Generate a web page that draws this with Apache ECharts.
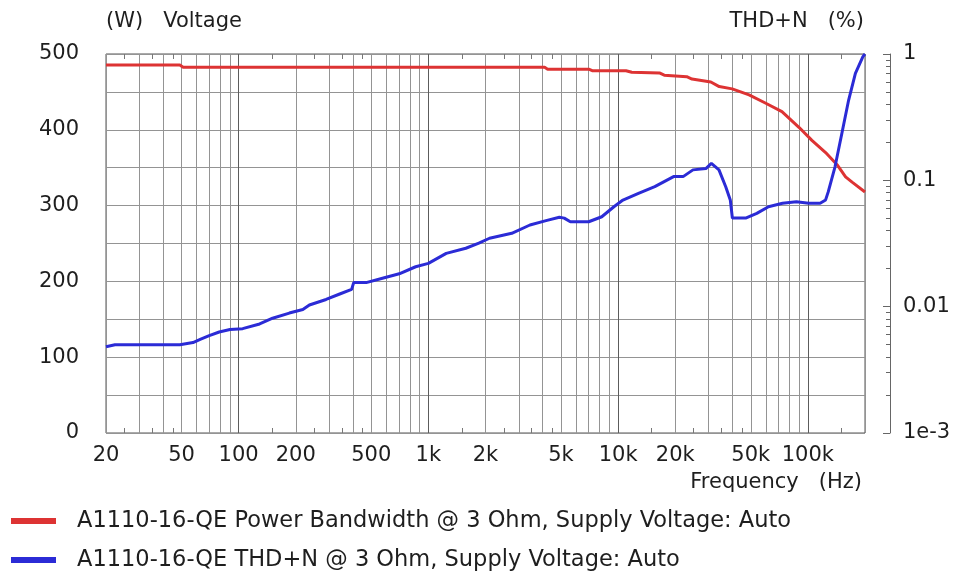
<!DOCTYPE html>
<html>
<head>
<meta charset="utf-8">
<title>A1110-16-QE</title>
<script src="https://cdn.jsdelivr.net/npm/echarts@6/dist/echarts.min.js"></script>
<style>
  html, body { margin: 0; padding: 0; background: #fff; }
  #chart { width: 958px; height: 572px; }
</style>
</head>
<body>
<div id="chart"></div>
<script>
// Power bandwidth @ 3 Ohm (W)
var powerFreq = [20, 49, 51, 4100, 4250, 7000, 7300, 11000, 11800, 16500, 17500, 23000, 24500, 30800, 34100, 39900, 49000, 60000, 73000, 90000, 105000, 124000, 142500, 158000, 171000, 200000];
var powerW    = [485.5, 485.5, 482.5, 482.5, 480, 480, 478, 478, 476, 475, 472, 470, 467, 463, 457, 454, 446, 435, 424, 403, 386, 370, 354, 338, 331, 318];

// THD+N @ 3 Ohm (%)
var thdFreq = [20, 22.3, 49, 57.5, 62.7, 70, 79, 90, 105, 129, 151, 185, 218, 236, 289, 341, 394, 404, 470, 573, 702, 857, 1000, 1242, 1575, 1845, 2100, 2750, 3430, 4170, 4900, 5200, 5600, 7000, 8200, 9500, 10600, 12800, 15600, 19600, 22000, 24800, 29000, 31000, 34000, 36900, 39000, 40000, 47000, 53800, 62000, 73500, 87000, 101000, 116000, 124000, 128000, 139000, 151000, 164000, 178000, 195000, 200000];
var thdPct  = [0.00482, 0.005, 0.005, 0.0052, 0.0055, 0.0059, 0.0063, 0.0066, 0.0067, 0.0073, 0.0081, 0.0089, 0.0095, 0.0103, 0.0114, 0.0126, 0.0137, 0.0155, 0.0155, 0.0168, 0.0182, 0.0207, 0.022, 0.0264, 0.029, 0.0318, 0.0348, 0.0381, 0.0443, 0.048, 0.051, 0.0502, 0.047, 0.047, 0.0515, 0.0618, 0.0698, 0.0789, 0.0891, 0.107, 0.107, 0.121, 0.124, 0.136, 0.121, 0.089, 0.07, 0.0503, 0.0503, 0.0548, 0.0618, 0.0658, 0.0677, 0.0658, 0.0658, 0.07, 0.081, 0.128, 0.235, 0.432, 0.703, 0.953, 1.0];

// tick / label values
var freqLabels = [20, 50, 100, 200, 500, 1000, 2000, 5000, 10000, 20000, 50000, 100000];
var freqGrid = [20, 30, 40, 50, 60, 70, 80, 90, 100, 200, 300, 400, 500, 600, 700, 800, 900, 1000, 2000, 3000, 4000, 5000, 6000, 7000, 8000, 9000, 10000, 20000, 30000, 40000, 50000, 60000, 70000, 80000, 90000, 100000, 200000];
var freqMinorTicks = [25, 35, 45, 150, 250, 350, 450, 1500, 2500, 3500, 4500, 15000, 25000, 35000, 45000, 150000];
var thdLabels = [0.001, 0.01, 0.1, 1];
var thdTicks = [0.001, 0.002, 0.003, 0.004, 0.005, 0.006, 0.007, 0.008, 0.009, 0.01, 0.02, 0.03, 0.04, 0.05, 0.06, 0.07, 0.08, 0.09, 0.1, 0.2, 0.3, 0.4, 0.5, 0.6, 0.7, 0.8, 0.9, 1];

var seriesNames = ['A1110-16-QE Power Bandwidth @ 3 Ohm, Supply Voltage: Auto', 'A1110-16-QE THD+N @ 3 Ohm, Supply Voltage: Auto'];

var LOG = Math.log10;
var FONT = 'DejaVu Sans';
var TXT = '#1e1e1e';

function freqText(v) {
  var f = Math.round(Math.pow(10, v));
  return f >= 1000 ? (f / 1000) + 'k' : String(f);
}
function thdText(v) {
  var e = Math.round(v);
  return e === -3 ? '1e-3' : String(Math.pow(10, e));
}

// decade lines a bit darker
var gridColors = ['#949494', '#949494', '#949494', '#949494', '#949494', '#949494', '#949494', '#949494', '#5c5c5c'];

// one legend per row, text sits a little above the swatch
function legendFor(name, top) {
  return {
    orient: 'horizontal',
    left: 6, top: top,
    itemWidth: 45, itemHeight: 6,
    icon: 'rect',
    textStyle: { fontFamily: FONT, fontSize: 22.5, color: TXT, lineHeight: 22, padding: [0, 0, 6, 16] },
    data: [name]
  };
}

var chart = echarts.init(document.getElementById('chart'));
var option = {
  animation: false,
  textStyle: { fontFamily: FONT },
  grid: {
    left: 106, right: 93, top: 54, bottom: 139,
    show: true, borderColor: '#555', borderWidth: 1, backgroundColor: '#fff'
  },
  legend: [legendFor(seriesNames[0], 502), legendFor(seriesNames[1], 541)],
  xAxis: [
    {
      type: 'value', position: 'bottom',
      min: LOG(20), max: LOG(200000),
      name: 'Frequency   (Hz)', nameLocation: 'end', nameGap: 0,
      nameTextStyle: { fontFamily: FONT, fontSize: 21, color: TXT, align: 'right', verticalAlign: 'top', padding: [39, 3, 0, 0] },
      axisLine: { show: false, onZero: false },
      axisTick: { show: false, customValues: freqGrid.map(LOG) },
      axisLabel: { customValues: freqLabels.map(LOG), formatter: freqText, fontFamily: FONT, fontSize: 21, color: TXT, margin: 12 },
      splitLine: { show: true, lineStyle: { color: gridColors, width: 1 } }
    },
    {
      type: 'value', position: 'bottom',
      min: LOG(20), max: LOG(200000),
      axisLine: { show: false, onZero: false },
      axisTick: { show: true, inside: true, length: 5, customValues: freqMinorTicks.map(LOG), lineStyle: { color: '#777' } },
      axisLabel: { show: false },
      splitLine: { show: false }
    },
    {
      type: 'value', position: 'top',
      min: LOG(20), max: LOG(200000),
      axisLine: { show: false, onZero: false },
      axisTick: { show: true, inside: true, length: 5, customValues: freqMinorTicks.map(LOG), lineStyle: { color: '#777' } },
      axisLabel: { show: false },
      splitLine: { show: false }
    }
  ],
  yAxis: [
    {
      type: 'value', position: 'left',
      min: 0, max: 500, interval: 50,
      name: '(W)   Voltage', nameLocation: 'end', nameGap: 32,
      nameTextStyle: { fontFamily: FONT, fontSize: 21, color: TXT, align: 'left', verticalAlign: 'middle' },
      axisLine: { show: false },
      axisTick: { show: false },
      axisLabel: {
        formatter: function (v) { return v % 100 === 0 ? String(v) : ''; },
        fontFamily: FONT, fontSize: 21, color: TXT, margin: 27
      },
      splitLine: { show: true, lineStyle: { color: '#949494', width: 1 } }
    },
    {
      type: 'value', position: 'right', offset: 25,
      min: -3, max: 0,
      name: 'THD+N   (%)', nameLocation: 'end', nameGap: 32,
      nameTextStyle: { fontFamily: FONT, fontSize: 21, color: TXT, align: 'right', verticalAlign: 'middle', padding: [0, 26, 0, 0] },
      axisLine: { show: true, lineStyle: { color: '#666', width: 1 } },
      axisTick: { show: true, inside: true, length: 4, customValues: thdTicks.map(LOG), lineStyle: { color: '#666' } },
      axisLabel: { customValues: thdLabels.map(LOG), formatter: thdText, fontFamily: FONT, fontSize: 21, color: TXT, margin: 13 },
      splitLine: { show: false }
    },
    {
      type: 'value', position: 'right', offset: 25,
      min: -3, max: 0,
      axisLine: { show: false },
      axisTick: { show: true, inside: true, length: 7, customValues: thdLabels.map(LOG), lineStyle: { color: '#666' } },
      axisLabel: { show: false },
      splitLine: { show: false }
    }
  ],
  series: [
    {
      name: seriesNames[0],
      type: 'line', xAxisIndex: 0, yAxisIndex: 0,
      showSymbol: false, symbol: 'none',
      color: '#dd3333',
      lineStyle: { color: '#dd3333', width: 3 },
      data: powerFreq.map(function (f, i) { return [LOG(f), powerW[i]]; })
    },
    {
      name: seriesNames[1],
      type: 'line', xAxisIndex: 0, yAxisIndex: 1,
      showSymbol: false, symbol: 'none',
      color: '#2b2bd6',
      lineStyle: { color: '#2b2bd6', width: 3 },
      data: thdFreq.map(function (f, i) { return [LOG(f), LOG(thdPct[i])]; })
    }
  ]
};
chart.setOption(option);
</script>
</body>
</html>
